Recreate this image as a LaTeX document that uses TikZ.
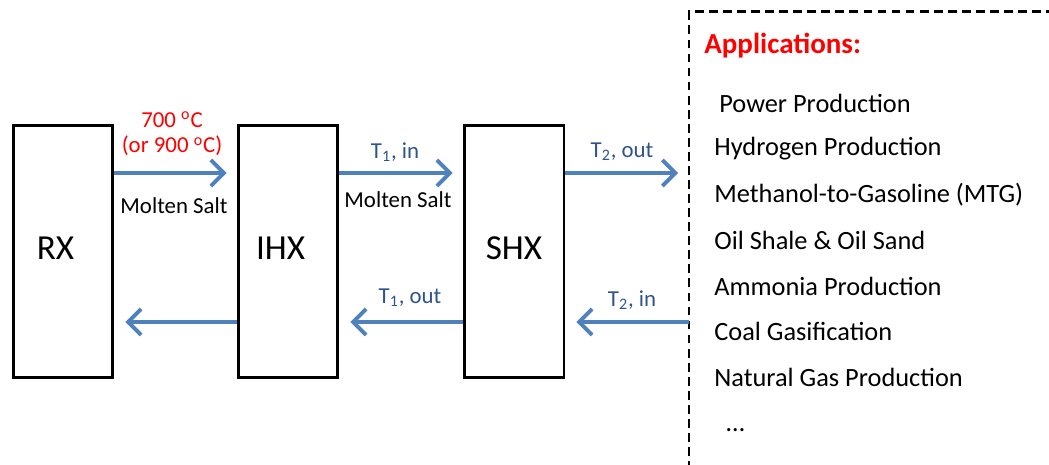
\documentclass[tikz,border=0pt]{standalone}
\usepackage{fontspec}
\setmainfont{Carlito}
\usetikzlibrary{arrows.meta,positioning,calc}
\definecolor{flowblue}{RGB}{79,129,189}
\definecolor{labelblue}{RGB}{46,84,140}

\begin{document}
\begin{tikzpicture}[
  x=0.02cm, y=0.02cm,
  unit/.style={draw=black, line width=1.7pt, minimum width=2cm, minimum height=5.06cm,
    inner sep=0pt, font=\fontsize{20}{24}\selectfont},
  flow/.style={-{Straight Barb[length=2.6mm, width=5.2mm]}, line width=2.2pt, draw=flowblue},
  tag/.style={font=\fontsize{13}{15}\selectfont, text=labelblue, inner sep=1pt},
  salt/.style={font=\fontsize{13}{15}\selectfont, inner sep=1pt},
  app/.style={font=\fontsize{15}{18}\selectfont, anchor=west, inner sep=0pt}
]
  \useasboundingbox (0,0) rectangle (1049,465);

  % loop units
  \node[unit] (rx) at (63,213.5) {\raisebox{3.4pt}{RX}\kern0.3cm};
  \node[unit] (ihx) at (288,213.5) {\raisebox{3.4pt}{IHX}\kern0.3cm};
  \node[unit] (shx) at (514,213.5) {\raisebox{3.4pt}{SHX}};

  % applications box (runs off the page)
  \coordinate (appcorner) at (689,453);
  \draw[line width=1.7pt, dash pattern=on 5pt off 3pt] (689,-5) -- (appcorner) -- (1055,453);
  \coordinate (appin) at (689,292);
  \coordinate (appout) at (689,143);

  % hot legs
  \draw[flow, shorten >=5.6pt] (rx.east |- appin) -- (ihx.west |- appin);
  \draw[flow, shorten >=5.6pt] (ihx.east |- appin) -- (shx.west |- appin);
  \draw[flow, shorten >=6.2pt] (shx.east |- appin) -- (appin);
  % cold legs
  \draw[flow, shorten >=6.2pt] (ihx.west |- appout) -- (rx.east |- appout);
  \draw[flow, shorten >=6.2pt] (shx.west |- appout) -- (ihx.east |- appout);
  \draw[flow, shorten >=6.2pt] (appout) -- (shx.east |- appout);

  % stream labels
  \node[salt, text=red] (hot700) at (172,345) {700 \textsuperscript{o}C};
  \node[salt, text=red] (hot900) at (172,319) {(or 900 \textsuperscript{o}C)};
  \node[salt] (salt1) at (174,259) {Molten Salt};
  \node[tag] (t1in) at (395,313) {T\textsubscript{1}, in};
  \node[salt] (salt2) at (398,265) {Molten Salt};
  \node[tag] (t2out) at (622,313) {T\textsubscript{2}, out};
  \node[tag] (t1out) at (410,167) {T\textsubscript{1}, out};
  \node[tag] (t2in) at (632,165) {T\textsubscript{2}, in};

  % applications
  \node[app, text=red, font=\fontsize{16.5}{19}\selectfont\bfseries] (apphead) at (704,419) {Applications:};
  \node[app] (power) at (719,362) {Power Production};
  \node[app] (hydrogen) at (714,316) {Hydrogen Production};
  \node[app] (mtg) at (714,270) {Methanol-to-Gasoline (MTG)};
  \node[app] (oil) at (714,225) {Oil Shale \& Oil Sand};
  \node[app] (ammonia) at (714,179) {Ammonia Production};
  \node[app] (coal) at (714,134) {Coal Gasification};
  \node[app] (gas) at (714,88) {Natural Gas Production};
  \node[app] (more) at (726,35) {\dots};
\end{tikzpicture}
\end{document}
